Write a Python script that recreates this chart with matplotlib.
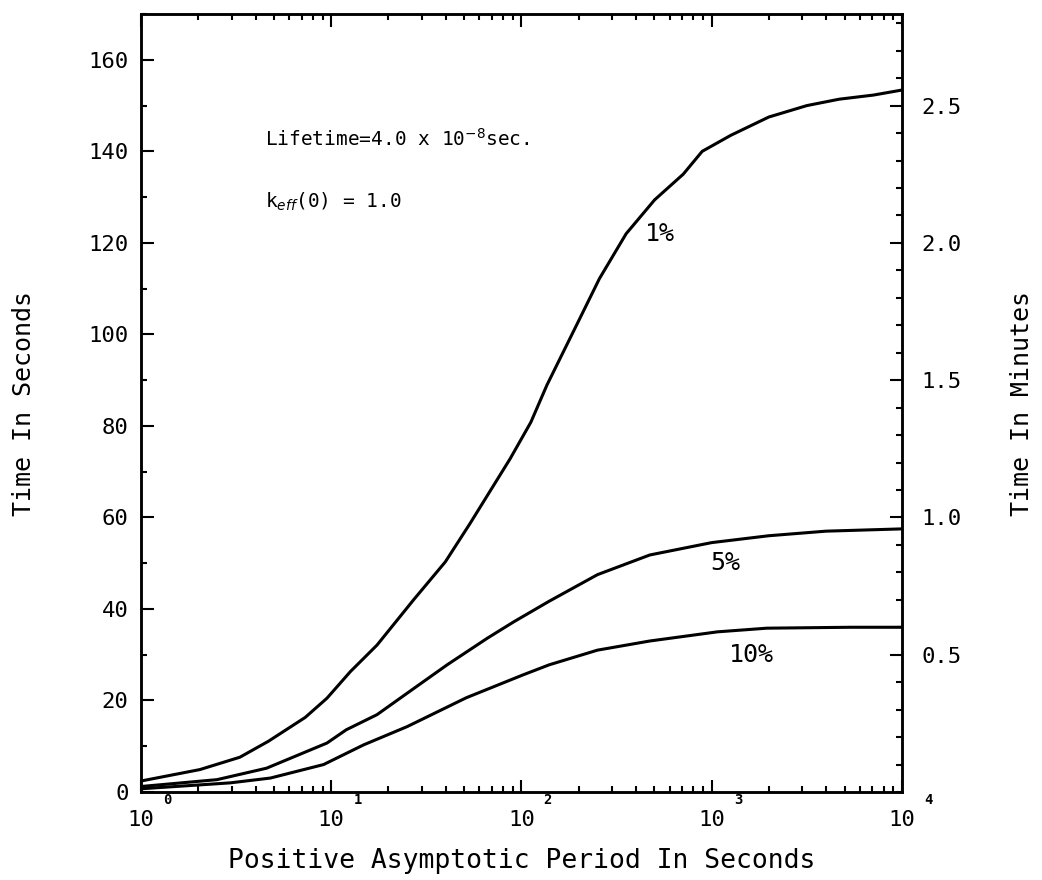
import numpy as np
import matplotlib
matplotlib.use('Agg')
import matplotlib.pyplot as plt
from matplotlib.ticker import FixedLocator, LogLocator, NullFormatter, MultipleLocator

plt.rcParams['font.family'] = 'DejaVu Sans Mono'

# period in seconds, time in seconds
period_1 = [1.0, 2.04, 3.31, 4.68, 7.3, 9.5, 12.6, 17.4, 27.1, 39.8, 53.7, 87.1, 112,
            136, 200, 257, 355, 501, 708, 891, 1259, 1995, 3162, 4677, 7079, 10000]
time_1 = [2.4, 4.9, 7.6, 11.1, 16.3, 20.5, 26.3, 32.1, 42, 50.3, 58.7, 72.8, 80.8,
          88.9, 103, 112.2, 122, 129.4, 135, 140, 143.5, 147.5, 150, 151.4, 152.3, 153.4]

period_5 = [1.0, 2.51, 4.57, 9.5, 12.0, 17.4, 28.2, 40.7, 66.1, 91.2, 140, 251, 473,
            1000, 1995, 3981, 10000]
time_5 = [1.2, 2.7, 5.2, 10.7, 13.6, 16.9, 23.1, 27.8, 33.6, 37.2, 41.7, 47.5, 51.8,
          54.5, 56, 57, 57.5]

period_10 = [1.0, 2.95, 4.79, 9.12, 14.8, 25.1, 51.3, 102, 140, 251, 473, 1072, 1950,
             5370, 10000]
time_10 = [0.7, 2.0, 3.05, 6.0, 10.3, 14.3, 20.6, 25.6, 27.8, 31, 33.0, 35.0, 35.8,
           36.0, 36.0]

curve_labels = ['1%', '5%', '10%']
label_pos = [(535, 122), (1175, 50), (1625, 30)]   # (period, seconds)

fig = plt.figure(figsize=(10.42, 8.8), dpi=100)
ax = fig.add_axes([0.1353, 0.1, 0.7303, 0.884])

for p, t in [(period_1, time_1), (period_5, time_5), (period_10, time_10)]:
    ax.plot(p, t, color='black', lw=2.2)

for lab, (px, py) in zip(curve_labels, label_pos):
    ax.text(px, py, lab, fontsize=18, ha='center', va='center')

ax.set_xscale('log')
ax.set_xlim(1, 1e4)
ax.set_ylim(0, 170)

ax.xaxis.set_major_locator(FixedLocator([1, 10, 100, 1000, 10000]))
ax.xaxis.set_minor_locator(LogLocator(base=10, subs=np.arange(2, 10)))
ax.xaxis.set_minor_formatter(NullFormatter())
ax.set_xticklabels(['10'] * 5)
for k in range(5):
    ax.annotate(str(k), xy=(10 ** k, 0), xycoords=('data', 'axes fraction'),
                xytext=(19, -6), textcoords='offset points',
                fontsize=10, ha='center', va='center', fontweight='bold')

ax.set_yticks(np.arange(0, 161, 20))
ax.yaxis.set_minor_locator(MultipleLocator(10))

ax.tick_params(which='both', direction='in', top=True, right=False, width=1.5)
ax.tick_params(which='major', length=9, labelsize=16)
ax.tick_params(which='minor', length=4.5)
ax.tick_params(axis='x', which='major', pad=13)
ax.tick_params(axis='y', which='major', pad=9)
for s in ax.spines.values():
    s.set_linewidth(1.8)

ax2 = ax.twinx()
ax2.set_ylim(0, 170 / 60)
ax2.set_yticks([0.5, 1.0, 1.5, 2.0, 2.5])
ax2.set_yticklabels(['0.5', '1.0', '1.5', '2.0', '2.5'])
ax2.yaxis.set_minor_locator(MultipleLocator(0.1))
ax2.tick_params(which='both', direction='in', width=1.5)
ax2.tick_params(which='major', length=9, labelsize=16, pad=14)
ax2.tick_params(which='minor', length=4.5)
for s in ax2.spines.values():
    s.set_linewidth(1.8)

ax.set_xlabel('Positive Asymptotic Period In Seconds', fontsize=19)
ax.set_ylabel('Time In Seconds', fontsize=18)
ax2.set_ylabel('Time In Minutes', fontsize=18)
ax.xaxis.set_label_coords(0.5, -0.072)
ax.yaxis.set_label_coords(-0.138, 0.5)
ax2.yaxis.set_label_coords(1.142, 0.5)

ax.text(0.163, 0.839, 'Lifetime=4.0 x 10$^{-8}$sec.', transform=ax.transAxes,
        fontsize=14, va='center', ha='left')
ax.text(0.163, 0.758, r'k$_{eff}$(0) = 1.0', transform=ax.transAxes,
        fontsize=14, va='center', ha='left')

fig.savefig('out.png', dpi=100)
